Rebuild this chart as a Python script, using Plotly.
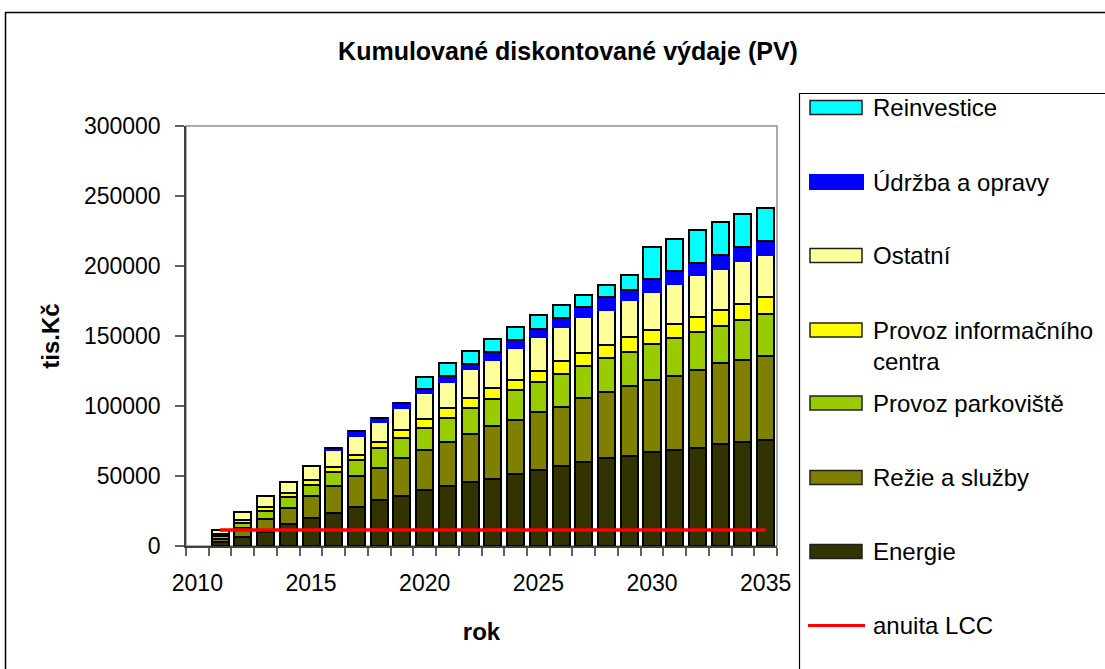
import plotly.graph_objects as go

years = list(range(2011, 2036))

energie = [2700, 6700, 10300, 15800, 19900, 23900, 28200, 33000, 35400, 40200, 42600, 45400, 48100,
           51500, 54000, 56900, 59800, 62900, 64100, 67200, 68400, 70100, 73000, 74400, 75600]
rezie = [2300, 6000, 9100, 11300, 15500, 18700, 21500, 22800, 27500, 28200, 31800, 34700, 37500,
         38400, 41700, 42600, 45700, 47100, 50200, 51500, 53100, 55700, 57400, 58600, 60300]
parkoviste = [2200, 4000, 5900, 7900, 8400, 10000, 12000, 14300, 14400, 16100, 17200, 18200, 19700,
              21600, 21500, 23200, 23200, 24200, 24400, 25800, 27300, 27300, 27000, 28700, 29900]
info_centrum = [1200, 2000, 2400, 2800, 3600, 3900, 3600, 4300, 5500, 5900, 7200, 7400, 7900,
                7100, 7900, 9100, 9100, 9600, 10400, 10000, 9800, 10300, 11500, 11300, 12000]
ostatni = [3100, 5700, 8200, 7900, 10000, 12400, 13600, 14100, 16000, 18700, 18700, 20600, 19800,
           23000, 24000, 24400, 25600, 24900, 26700, 26900, 28700, 29900, 28700, 30300, 29800]
udrzba = [0, 0, 0, 0, 0, 1100, 2900, 3100, 3100, 2900, 4000, 3600, 5700,
          5800, 5900, 6700, 7200, 9100, 7200, 9500, 8900, 8900, 10000, 10100, 10400]
reinvestice = [0, 0, 0, 0, 0, 0, 0, 0, 0, 9000, 9100, 9300, 9100,
               9100, 10000, 9300, 8800, 8800, 10800, 23000, 23400, 23200, 23700, 23400, 23100]
anuita_lcc = [11500] * 25

x_tick_vals = [2010, 2015, 2020, 2025, 2030, 2035]
x_tick_text = ["2010", "2015", "2020", "2025", "2030", "2035"]
y_tick_vals = [0, 50000, 100000, 150000, 200000, 250000, 300000]

# name, values, fill, outline
series = [
    ("Energie", energie, "#333300", "black"),
    ("Režie a služby", rezie, "#808000", "black"),
    ("Provoz parkoviště", parkoviste, "#99CC00", "black"),
    ("Provoz informačního<br>centra", info_centrum, "#FFFF00", "black"),
    ("Ostatní", ostatni, "#FFFF99", "black"),
    ("Údržba a opravy", udrzba, "#0000FF", "#0000FF"),
    ("Reinvestice", reinvestice, "#00FFFF", "black"),
]
lcc_name = "anuita LCC"
lcc_color = "#FF0000"

FONT = "Liberation Sans, Arial, sans-serif"
W, H = 1105, 669
L, R, T, B = 186, 777, 126, 546  # plot area in screen pixels

def px(xs):
    return (xs - L) / (R - L)

def py(ys):
    return (B - ys) / (B - T)

fig = go.Figure()
for name, vals, color, lcolor in series:
    fig.add_trace(go.Bar(
        x=years, y=vals, name=name, width=0.75,
        marker=dict(color=color, line=dict(color=lcolor, width=2)),
        showlegend=False,
    ))

fig.add_trace(go.Scatter(
    x=years, y=anuita_lcc, name=lcc_name, mode="lines",
    line=dict(color=lcc_color, width=3.5), showlegend=False,
))

# hand-drawn legend (screen-pixel centres of each entry)
legend_rows = [  # (series index or None for line, centre y)
    (6, 107.5), (5, 182), (4, 255.5), (3, 330), (2, 403), (1, 477.5), (0, 551.5), (None, 625.5)
]
shapes = [
    dict(type="rect", xref="paper", yref="paper", x0=0, x1=1, y0=0, y1=1,
         line=dict(color="#909090", width=1.5), layer="below"),
    dict(type="rect", xref="paper", yref="paper",
         x0=px(799.5), x1=px(1140), y0=py(720), y1=py(93.5),
         line=dict(color="black", width=1.2)),
    dict(type="rect", xref="paper", yref="paper",
         x0=px(5.5), x1=px(1140), y0=py(720), y1=py(12.5),
         line=dict(color="black", width=1.5)),
]
annotations = []
for idx, yc in legend_rows:
    if idx is None:
        shapes.append(dict(type="line", xref="paper", yref="paper",
                           x0=px(808), x1=px(865), y0=py(yc), y1=py(yc),
                           line=dict(color=lcc_color, width=3)))
        text = lcc_name
        ty = yc
    else:
        name, _, color, lcolor = series[idx]
        if lcolor == "black":
            shapes.append(dict(type="rect", xref="paper", yref="paper",
                               x0=px(810), x1=px(862), y0=py(yc + 7), y1=py(yc - 7),
                               fillcolor=color, line=dict(color="#202020", width=1.5)))
        else:
            shapes.append(dict(type="rect", xref="paper", yref="paper",
                               x0=px(809), x1=px(864), y0=py(yc + 8), y1=py(yc - 8),
                               fillcolor=color, line=dict(width=0)))
        text = name
        ty = yc + 16 if "<br>" in name else yc
    annotations.append(dict(xref="paper", yref="paper", x=px(871), y=py(ty),
                            xanchor="left", yanchor="middle", align="left",
                            text=text, showarrow=False,
                            font=dict(size=24, family=FONT, color="black")))

fig.update_layout(
    width=W, height=H,
    margin=dict(l=L, r=W - R, t=T, b=H - B),
    paper_bgcolor="white", plot_bgcolor="white",
    barmode="stack",
    font=dict(family=FONT, size=23, color="black"),
    title=dict(text="<b>Kumulované diskontované výdaje (PV)</b>",
               x=568 / W, xanchor="center", y=1 - 51 / H, yanchor="middle",
               font=dict(size=25, family=FONT, color="black")),
    showlegend=False,
    xaxis=dict(
        range=[2009.5, 2035.5], tickvals=x_tick_vals, ticktext=x_tick_text,
        ticks="", showgrid=False, zeroline=False,
        showline=True, linecolor="#404040", linewidth=1.5,
        ticklabelstandoff=16,
        minor=dict(ticks="outside", ticklen=8, tickcolor="#606060", tickwidth=1.5,
                   tick0=2009.5, dtick=1, showgrid=False),
        title=dict(text="<b>rok</b>", font=dict(size=24, family=FONT), standoff=28),
        tickfont=dict(size=23),
    ),
    yaxis=dict(
        range=[0, 300000], tickvals=y_tick_vals, tickformat="d",
        ticks="outside", ticklen=9, tickcolor="#606060", tickwidth=1.5,
        showgrid=False, zeroline=False,
        showline=True, linecolor="#404040", linewidth=1.5,
        ticklabelstandoff=10,
        title=dict(text="<b>tis.Kč</b>", font=dict(size=24, family=FONT), standoff=18),
        tickfont=dict(size=23),
    ),
    shapes=shapes,
    annotations=annotations,
)

fig.write_html("out.html",
               config={"displayModeBar": False},
               post_script="document.body.style.margin='0px';document.body.style.overflow='hidden';")
